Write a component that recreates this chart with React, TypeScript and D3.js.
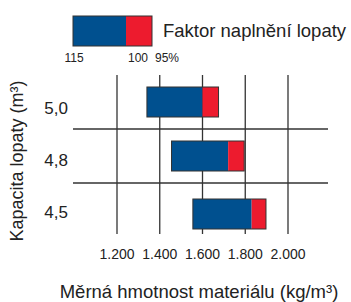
import React, { useEffect, useRef } from 'react';
import * as d3 from 'd3';

// Kapacita lopaty (m3)
const capacities = ['5,0', '4,8', '4,5'];
// Měrná hmotnost (kg/m3) při faktoru naplnění 115 %, 100 %, 95 %
const at115 = [1340, 1455, 1555];
const at100 = [1600, 1720, 1830];
const at95 = [1675, 1795, 1897];
const xTicks = [1200, 1400, 1600, 1800, 2000];
const legendLabels = ['115', '100', '95%'];

const BLUE = '#00508f';
const RED = '#ed1b2e';
const LINE = '#333';
const FONT = 'Liberation Sans, Arial, Helvetica, sans-serif';

const App: React.FC = () => {
  const ref = useRef<SVGSVGElement>(null);

  useEffect(() => {
    if (!ref.current) return;
    const svg = d3.select(ref.current);
    svg.selectAll('*').remove();

    const x = d3.scaleLinear().domain([1200, 2000]).range([117, 288]);
    const y = d3.scaleBand<string>().domain(capacities).range([75, 237]);
    // drobné posuny řádků jako v předloze
    const barShift = [0, 0, 4];
    const labelShift = [12, 10, 8];

    const g = svg.append('g').style('font-family', FONT);

    // Vertikální mřížka
    g.selectAll('.vline')
      .data(xTicks)
      .enter()
      .append('line')
      .attr('x1', d => x(d))
      .attr('x2', d => x(d))
      .attr('y1', 75)
      .attr('y2', 234)
      .attr('stroke', LINE)
      .attr('stroke-width', 1.3);

    // Horizontální oddělovače
    g.selectAll('.hline')
      .data(capacities.slice(1))
      .enter()
      .append('line')
      .attr('x1', 73)
      .attr('x2', 328)
      .attr('y1', d => y(d)!)
      .attr('y2', d => y(d)!)
      .attr('stroke', LINE)
      .attr('stroke-width', 1.3);

    const barH = 30;
    const rows = capacities.map((c, i) => ({ c, i, a: at115[i], b: at100[i], e: at95[i] }));
    const barY = (d: { c: string; i: number }) => y(d.c)! + y.bandwidth() / 2 - barH / 2 + barShift[d.i];

    const bars = g.selectAll('.bar').data(rows).enter().append('g');
    bars.append('rect')
      .attr('x', d => x(d.a))
      .attr('width', d => x(d.b) - x(d.a))
      .attr('y', barY)
      .attr('height', barH)
      .attr('fill', BLUE);
    bars.append('rect')
      .attr('x', d => x(d.b))
      .attr('width', d => x(d.e) - x(d.b))
      .attr('y', barY)
      .attr('height', barH)
      .attr('fill', RED);
    bars.append('rect')
      .attr('x', d => x(d.a))
      .attr('width', d => x(d.e) - x(d.a))
      .attr('y', barY)
      .attr('height', barH)
      .attr('fill', 'none')
      .attr('stroke', LINE)
      .attr('stroke-width', 1);

    // Popisky kapacit
    g.selectAll('.ylab')
      .data(rows)
      .enter()
      .append('text')
      .attr('x', 68)
      .attr('y', d => y(d.c)! + y.bandwidth() / 2 + labelShift[d.i])
      .attr('text-anchor', 'end')
      .attr('font-size', 17)
      .attr('fill', '#222')
      .text(d => d.c);

    // Popisky osy x
    g.selectAll('.xlab')
      .data(xTicks)
      .enter()
      .append('text')
      .attr('x', d => x(d))
      .attr('y', 259)
      .attr('text-anchor', 'middle')
      .attr('font-size', 14)
      .attr('fill', '#222')
      .text(d => d3.format(',')(d).replace(',', '.'));

    g.append('text')
      .attr('x', 199)
      .attr('y', 298)
      .attr('text-anchor', 'middle')
      .attr('font-size', 18.5)
      .attr('fill', '#222')
      .text('Měrná hmotnost materiálu (kg/m³)');

    g.append('text')
      .attr('transform', 'translate(23,161) rotate(-90)')
      .attr('text-anchor', 'middle')
      .attr('font-size', 18)
      .attr('fill', '#222')
      .text('Kapacita lopaty (m³)');

    // Legenda
    const lx = d3.scaleOrdinal<string, number>().domain(legendLabels).range([74, 138, 167]);
    g.append('rect').attr('x', 73).attr('y', 16).attr('width', 53).attr('height', 30).attr('fill', BLUE);
    g.append('rect').attr('x', 126).attr('y', 16).attr('width', 26).attr('height', 30).attr('fill', RED);
    g.append('rect').attr('x', 73).attr('y', 16).attr('width', 79).attr('height', 30)
      .attr('fill', 'none').attr('stroke', LINE).attr('stroke-width', 1);
    g.selectAll('.leglab')
      .data(legendLabels)
      .enter()
      .append('text')
      .attr('x', d => lx(d))
      .attr('y', 62)
      .attr('text-anchor', 'middle')
      .attr('font-size', 12)
      .attr('fill', '#222')
      .text(d => d);
    g.append('text')
      .attr('x', 163)
      .attr('y', 37)
      .attr('font-size', 18.5)
      .attr('fill', '#222')
      .text('Faktor naplnění lopaty');
  }, []);

  return (
    <div style={{ position: 'absolute', left: 0, top: 0, background: '#fff' }}>
      <svg ref={ref} width={351} height={302} style={{ display: 'block' }} />
    </div>
  );
};

export default App;
